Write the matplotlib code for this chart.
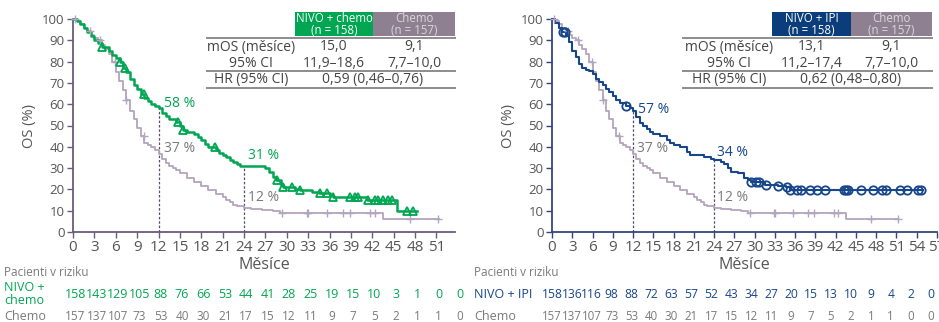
import numpy as np
import matplotlib
matplotlib.use('Agg')
import matplotlib.pyplot as plt
from matplotlib.patches import Rectangle
from matplotlib.lines import Line2D
from matplotlib.transforms import blended_transform_factory

plt.rcParams['font.family'] = ['Open Sans', 'DejaVu Sans']

# ---- data ----
nc_t = [0, 0.5, 1, 1.5, 2, 2.5, 3, 3.5, 4, 5, 5.5, 6, 6.6, 7, 7.5, 8, 8.5, 9, 9.5, 10, 10.5, 11, 11.5, 12,
        12.5, 13, 13.5, 14.5, 15, 15.5, 16, 17, 17.5, 18, 18.5, 19, 20, 20.5, 21, 21.5, 22, 22.5, 23, 23.5,
        27, 27.5, 28, 28.5, 29.2, 29.5, 31.2, 31.8, 33.5, 34.5, 36, 36.5, 41.2, 45.4, 48.3]
nc_s = [100, 99, 97.5, 96, 94, 92, 90, 88.5, 87, 85, 83, 81.5, 80, 77, 75, 72, 69, 67, 65, 63, 61.5, 60, 59, 58,
        56, 54.5, 53, 51.5, 50, 48, 47, 46, 44.5, 43, 41.5, 40, 38.5, 37, 36, 35, 34, 33, 32, 31,
        30, 28, 26, 24.4, 22, 21, 20.3, 19.7, 19, 18.5, 17.5, 16.3, 15, 10, 10]
nc_cens = [4.0, 6.6, 7.3, 9.9, 14.8, 15.5, 19.9, 28.6, 29.5, 30.7, 31.8, 34.6, 35.7, 36.5, 38.8, 39.6, 40.0,
           41.4, 42.4, 42.8, 43.5, 44.2, 44.7, 46.8, 47.7]

ni_t = [0, 0.5, 1, 1.5, 2, 2.5, 3, 3.5, 4, 4.5, 5, 5.5, 6, 6.5, 7, 7.5, 8, 8.5, 9, 9.5, 10, 11, 11.5, 12,
        12.5, 13, 13.5, 14, 14.5, 15, 16, 17, 17.5, 18, 19, 20, 20.5, 22.5, 23.5, 24, 25, 25.5, 26, 26.5,
        27.5, 28.5, 29, 29.5, 31.5, 33.5, 34.7, 35.2, 55]
ni_s = [100, 98, 96, 94, 92, 89, 85, 82, 79, 77, 76, 75.5, 74, 72, 70.5, 69, 67, 65.5, 64, 62, 60.5, 59, 58, 57,
        54, 51, 50, 48.5, 47, 46, 45, 43, 42, 41, 40, 37.5, 36, 35.3, 34.5, 34, 33, 32, 30, 28,
        27.5, 25.5, 24.5, 23.6, 22.3, 21.5, 20.9, 19.7, 19.7]
ni_cens = [1.7, 1.9, 11.0, 29.5, 30.2, 30.7, 31.7, 33.5, 34.8, 35.3, 36.2, 36.9, 38.2, 39.2, 40.4, 43.3, 43.6,
           43.8, 45.8, 47.5, 48.8, 49.5, 51.5, 52.5, 54.2, 54.7]

ch_t = [0, 0.5, 1, 1.5, 2, 2.5, 3, 3.5, 4, 4.5, 5, 5.5, 6, 6.5, 7, 7.5, 8, 8.5, 9, 9.5, 10, 10.5, 11, 11.5,
        12, 12.5, 13, 13.5, 14, 14.5, 15, 16, 17, 18, 19, 20, 21, 21.5, 22, 22.5, 23, 24, 25, 26.5, 28, 29,
        43.5, 51.3]
ch_s = [100, 99, 97.5, 96, 94.5, 92.5, 91, 90, 88, 86, 83.5, 80, 75, 71, 66.5, 62, 57, 53, 49, 45, 42, 41, 40,
        38.5, 36.5, 34.5, 32.5, 31, 30, 29, 27.5, 25.5, 23.5, 21.5, 19.5, 18, 16.5, 15, 14, 12.5, 12, 11.5, 11,
        10.3, 9.7, 9, 6, 6]
ch_cens = [0.3, 2.4, 3.8, 5.9, 7.5, 9.9, 29.3, 32.8, 33.0, 35.7, 37.9, 38.8, 41.7, 42.4, 47.3, 51.2]

risk_nc = [158, 143, 129, 105, 88, 76, 66, 53, 44, 41, 28, 25, 19, 15, 10, 3, 1, 0, 0]
risk_ch_left = [157, 137, 107, 73, 53, 40, 30, 21, 17, 15, 12, 11, 9, 7, 5, 2, 1, 1, 0]
risk_ni = [158, 136, 116, 98, 88, 72, 63, 57, 52, 43, 34, 27, 20, 15, 13, 10, 9, 4, 2, 0]
risk_ch_right = [157, 137, 107, 73, 53, 40, 30, 21, 17, 15, 12, 11, 9, 7, 5, 2, 1, 1, 0, 0]

GREEN = '#00a651'
BLUE = '#17468a'
CHEMO = '#b3a5bd'
CHEMO_BOX = '#8e8090'
GRAY_TXT = '#7a7a7a'
DASH = '#5c4a6e'

W, H = 939, 322
fig = plt.figure(figsize=(W / 100, H / 100), dpi=100)


def fx(x):
    return x / W


def fy(y):
    return 1 - y / H


def step_at(t, s, x):
    i = np.searchsorted(t, x, side='right') - 1
    return np.array(s)[i]


def km(ax, t, s, cens, color, marker, lw, ms):
    ax.step(t, s, where='post', color=color, lw=lw, clip_on=False, zorder=3)
    cy = step_at(t, s, cens)
    if marker == '+':
        ax.plot(cens, cy, ls='none', marker='+', color=color, ms=ms, mew=1.0, clip_on=False, zorder=4)
    else:
        ax.plot(cens, cy, ls='none', marker=marker, mfc='none', mec=color, ms=ms, mew=1.3,
                clip_on=False, zorder=4)


def panel(x0, x1, xmax, xticks, spine_col):
    ax = fig.add_axes([fx(x0), fy(232), fx(x1 - x0), (232 - 19) / H])
    ax.set_xlim(0, xmax)
    ax.set_ylim(0, 100)
    for sp in ['top', 'right']:
        ax.spines[sp].set_visible(False)
    for sp in ['left', 'bottom']:
        ax.spines[sp].set_color(spine_col)
        ax.spines[sp].set_linewidth(1.3)
    ax.set_xticks(xticks)
    ax.set_yticks(range(0, 101, 10))
    ax.tick_params(axis='both', colors=spine_col, length=4, width=1.0, labelcolor='#555555')
    ax.tick_params(axis='x', labelsize=11, pad=2)
    ax.tick_params(axis='y', labelsize=9.5, pad=2)
    ax.set_ylabel('OS (%)', fontsize=10.5, color='#555555', labelpad=4)
    ax.set_xlabel('Měsíce', fontsize=11.5, color='#555555', labelpad=1)
    return ax


# ---------------- left panel ----------------
axL = panel(73, 455, 53.6, range(0, 52, 3), '#6a5a7d')
km(axL, ch_t, ch_s, ch_cens, CHEMO, '+', 1.3, 6)
km(axL, nc_t, nc_s, nc_cens, GREEN, '^', 1.8, 6)
axL.plot([12, 12], [0, 58], ls=(0, (2, 1.5)), color=DASH, lw=0.9, zorder=2)
axL.plot([24, 24], [0, 31], ls=(0, (2, 1.5)), color=DASH, lw=0.9, zorder=2)
axL.text(12.7, 60.5, '58 %', color=GREEN, fontsize=10, va='center')
axL.text(12.7, 39, '37 %', color=GRAY_TXT, fontsize=10, va='center')
axL.text(24.5, 36, '31 %', color=GREEN, fontsize=10, va='center')
axL.text(24.5, 16.4, '12 %', color=GRAY_TXT, fontsize=10, va='center')

# ---------------- right panel ----------------
axR = panel(552, 937, 57, range(0, 58, 3), '#34457e')
km(axR, ch_t, ch_s, ch_cens, CHEMO, '+', 1.3, 6)
km(axR, ni_t, ni_s, ni_cens, BLUE, 'o', 1.5, 6)
axR.plot([12, 12], [0, 57], ls=(0, (2, 1.5)), color=DASH, lw=0.9, zorder=2)
axR.plot([24, 24], [0, 34], ls=(0, (2, 1.5)), color=DASH, lw=0.9, zorder=2)
axR.text(12.7, 57.5, '57 %', color=BLUE, fontsize=10, va='center')
axR.text(12.6, 39, '37 %', color=GRAY_TXT, fontsize=10, va='center')
axR.text(24.4, 37.5, '34 %', color=BLUE, fontsize=10, va='center')
axR.text(24.4, 16.4, '12 %', color=GRAY_TXT, fontsize=10, va='center')


# ---------------- summary tables ----------------
def table(xl, xa, xb, xr, col, head, mos, ci, hr, lab_right):
    fig.patches.append(Rectangle((fx(xa), fy(36)), fx(xb - xa), 24 / H, transform=fig.transFigure,
                                 facecolor=col, edgecolor='none'))
    fig.patches.append(Rectangle((fx(xb), fy(36)), fx(xr - xb), 24 / H, transform=fig.transFigure,
                                 facecolor=CHEMO_BOX, edgecolor='none'))
    for y in [38, 70.5, 87.5]:
        fig.lines.append(Line2D([fx(xl), fx(xr)], [fy(y), fy(y)], transform=fig.transFigure,
                                color='#8c8c8c', lw=1.4))
    ca, cb = (xa + xb) / 2, (xb + xr) / 2
    fig.text(fx(ca), fy(24.5), head + '\n(n = 158)', color='white', fontsize=8.3, ha='center', va='center',
             linespacing=0.95)
    fig.text(fx(cb), fy(24.5), 'Chemo\n(n = 157)', color='#ddd4df', fontsize=8.3, ha='center', va='center',
             linespacing=0.95)
    fig.text(fx(lab_right), fy(48), 'mOS (měsíce)', color='#444444', fontsize=10, ha='right', va='center')
    fig.text(fx(lab_right - 44), fy(63.5), '95% CI', color='#444444', fontsize=10, ha='center', va='center')
    fig.text(fx(lab_right - 44), fy(80), 'HR (95% CI)', color='#444444', fontsize=10, ha='center', va='center')
    fig.text(fx(ca), fy(47), mos[0], color='#444444', fontsize=10, ha='center', va='center')
    fig.text(fx(cb), fy(47), mos[1], color='#444444', fontsize=10, ha='center', va='center')
    fig.text(fx(ca), fy(63.5), ci[0], color='#444444', fontsize=10, ha='center', va='center')
    fig.text(fx(cb), fy(63.5), ci[1], color='#444444', fontsize=10, ha='center', va='center')
    fig.text(fx(xb), fy(80), hr, color='#444444', fontsize=10, ha='center', va='center')


table(207, 295, 373, 455, GREEN, 'NIVO + chemo', ['15,0', '9,1'], ['11,9–18,6', '7,7–10,0'],
      '0,59 (0,46–0,76)', 295)
table(683, 772, 851, 932, '#0b3d7a', 'NIVO + IPI', ['13,1', '9,1'], ['11,2–17,4', '7,7–10,0'],
      '0,62 (0,48–0,80)', 773)


# ---------------- patients at risk ----------------
def risk(ax, xlab, rows, step, off):
    tr = blended_transform_factory(ax.transData, fig.transFigure)
    fig.text(fx(xlab), fy(272), 'Pacienti v riziku', color=GRAY_TXT, fontsize=8.5, ha='left', va='center')
    for label, vals, col, y, fs in rows:
        fig.text(fx(xlab), fy(y), label, color=col, fontsize=9, ha='left', va='center', linespacing=0.95)
        for i, v in enumerate(vals):
            ax.text(i * step + off, fy(y), str(v), transform=tr, color=col,
                    fontsize=fs, ha='center', va='center', clip_on=False)


risk(axL, 4, [('NIVO +\nchemo', risk_nc, GREEN, 294, 9), ('Chemo', risk_ch_left, GRAY_TXT, 316, 8.5)], 3, 0.3)
risk(axR, 474, [('NIVO + IPI', risk_ni, BLUE, 294, 8.7), ('Chemo', risk_ch_right, GRAY_TXT, 316, 8.3)],
     2.95, 0)

fig.savefig('out.png', dpi=100)
